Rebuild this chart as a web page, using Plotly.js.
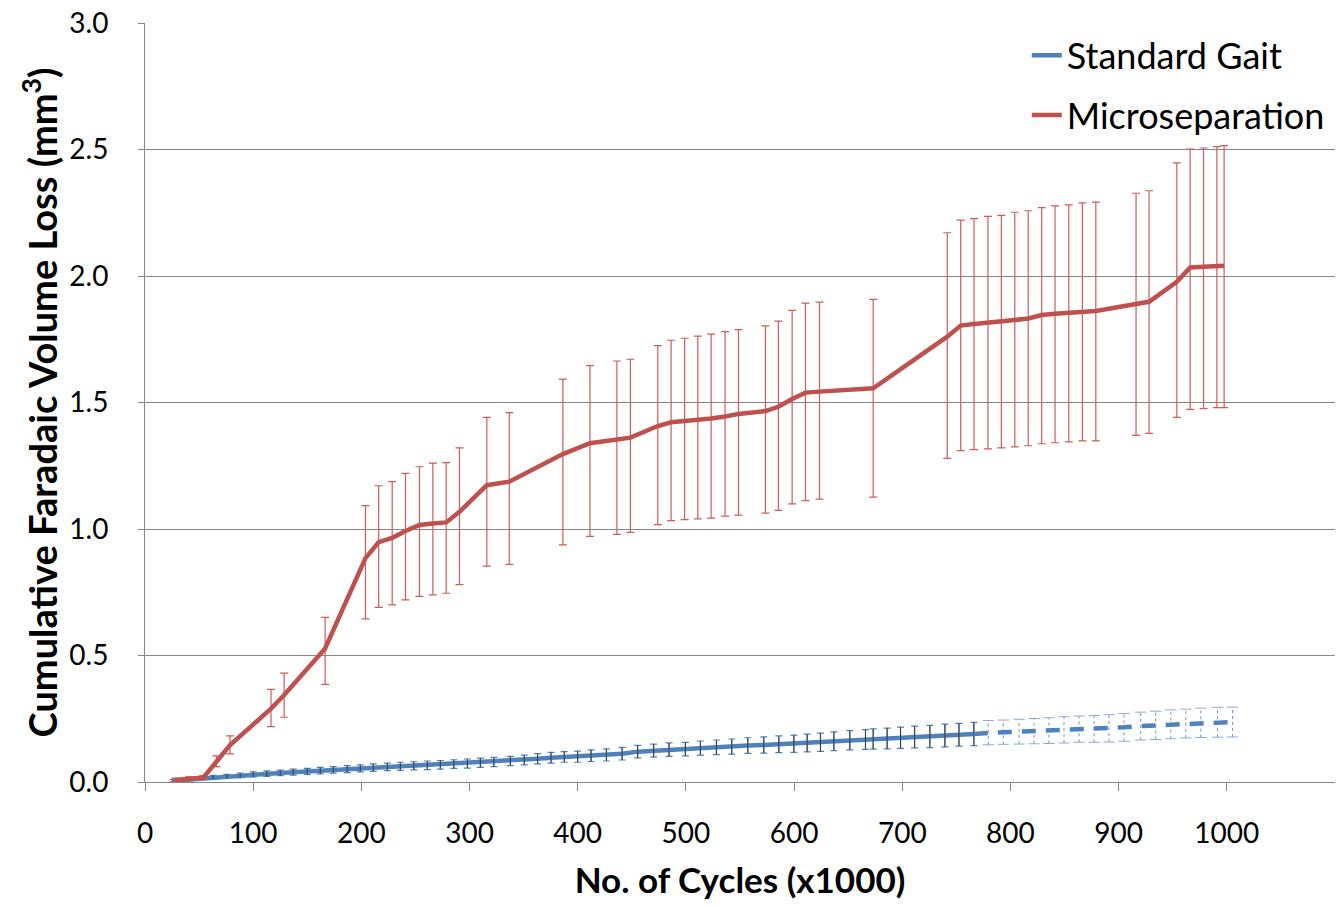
<!DOCTYPE html>
<html>
<head>
<meta charset="utf-8">
<script src="https://cdn.plot.ly/plotly-3.0.1.min.js"></script>
<style>html,body{margin:0;padding:0;background:#fff;}#chart{width:1341px;height:908px;}</style>
</head>
<body>
<div id="chart"></div>
<script>
// ---- Microseparation (red) ----
const redX = [28, 41, 54, 66, 78.6, 116.5, 128.6, 166.5, 203.8, 216, 228.5, 240.8, 253.7, 266.1, 278.4, 290.7, 316, 336.7, 386.3, 411.3, 436.2, 448.7, 474, 486.3, 498.8, 511, 523.3, 536.2, 548.6, 573.5, 585.5, 598.2, 610.5, 623.5, 673.1, 741.6, 754, 766.3, 779.2, 791.6, 804, 816.4, 828.9, 841.2, 853.9, 866.5, 878.9, 916.1, 928.1, 953.8, 966.1, 978.5, 990.8, 997.5];
const redY = [0.008, 0.012, 0.018, 0.08, 0.146, 0.29, 0.344, 0.528, 0.885, 0.948, 0.965, 0.992, 1.016, 1.022, 1.026, 1.068, 1.173, 1.187, 1.296, 1.339, 1.352, 1.361, 1.407, 1.422, 1.427, 1.43, 1.437, 1.445, 1.455, 1.466, 1.483, 1.514, 1.539, 1.543, 1.556, 1.76, 1.804, 1.81, 1.814, 1.819, 1.826, 1.832, 1.846, 1.851, 1.854, 1.857, 1.862, 1.889, 1.898, 1.977, 2.034, 2.037, 2.041, 2.041];
const redHigh = [0.015, 0.02, 0.025, 0.103, 0.182, 0.366, 0.43, 0.651, 1.092, 1.171, 1.187, 1.22, 1.246, 1.26, 1.262, 1.321, 1.441, 1.46, 1.592, 1.646, 1.664, 1.671, 1.725, 1.746, 1.754, 1.762, 1.77, 1.78, 1.788, 1.803, 1.822, 1.864, 1.893, 1.897, 1.908, 2.171, 2.221, 2.227, 2.236, 2.24, 2.252, 2.258, 2.27, 2.277, 2.281, 2.289, 2.292, 2.327, 2.337, 2.447, 2.502, 2.506, 2.511, 2.515];
const redLow = [0.002, 0.005, 0.01, 0.061, 0.111, 0.219, 0.256, 0.386, 0.645, 0.69, 0.70, 0.72, 0.734, 0.74, 0.746, 0.78, 0.853, 0.86, 0.937, 0.971, 0.979, 0.987, 1.017, 1.033, 1.037, 1.04, 1.043, 1.051, 1.055, 1.063, 1.074, 1.099, 1.112, 1.118, 1.126, 1.279, 1.31, 1.314, 1.317, 1.321, 1.325, 1.329, 1.337, 1.341, 1.344, 1.348, 1.348, 1.37, 1.378, 1.441, 1.473, 1.476, 1.48, 1.48];

// ---- Standard Gait (blue), measured part ----
const blueX = [26, 29, 41.6, 51, 54, 63, 75.6, 88, 100, 112.6, 125, 137, 150, 162, 174, 187, 199, 211, 224, 236, 248.5, 261, 273, 285.5, 298, 310, 322.5, 337.7, 350.6, 362.9, 375.3, 387.6, 399.9, 412.3, 426.5, 441, 455.4, 470.2, 484.4, 499.5, 513.4, 528.2, 542.4, 557.2, 572, 585.9, 599.8, 612.1, 624.4, 636.8, 651.5, 666, 673.1, 686, 698.4, 711.4, 725.5, 739.4, 752.4, 766.2];
const blueY = [0.005, 0.006, 0.01, 0.013, 0.015, 0.019, 0.022, 0.026, 0.03, 0.033, 0.036, 0.039, 0.042, 0.045, 0.048, 0.051, 0.054, 0.057, 0.06, 0.062, 0.064, 0.066, 0.068, 0.071, 0.073, 0.076, 0.079, 0.083, 0.087, 0.092, 0.096, 0.099, 0.1, 0.104, 0.107, 0.112, 0.12, 0.124, 0.128, 0.13, 0.134, 0.137, 0.14, 0.144, 0.146, 0.149, 0.151, 0.154, 0.157, 0.161, 0.165, 0.168, 0.17, 0.172, 0.175, 0.178, 0.18, 0.184, 0.187, 0.19];
const blueErr = [0.004, 0.004, 0.005, 0.006, 0.006, 0.007, 0.008, 0.009, 0.01, 0.011, 0.011, 0.012, 0.012, 0.013, 0.013, 0.014, 0.014, 0.015, 0.015, 0.016, 0.016, 0.017, 0.017, 0.017, 0.018, 0.018, 0.018, 0.018, 0.019, 0.02, 0.021, 0.021, 0.022, 0.023, 0.024, 0.025, 0.025, 0.026, 0.027, 0.027, 0.028, 0.029, 0.03, 0.031, 0.032, 0.033, 0.034, 0.035, 0.036, 0.037, 0.038, 0.039, 0.04, 0.041, 0.042, 0.043, 0.044, 0.045, 0.045, 0.046];

// ---- Standard Gait (blue), projected (dashed) part ----
const blueDashX = [779.5, 793.4, 807.9, 821.8, 835.6, 849.5, 863.4, 877.3, 891.1, 905, 920.4, 934.3, 948.2, 962.1, 976, 991.4, 1005.3];
const blueDashY = [0.195, 0.197, 0.199, 0.201, 0.203, 0.206, 0.209, 0.21, 0.212, 0.216, 0.221, 0.224, 0.228, 0.231, 0.234, 0.236, 0.237];
const blueDashErr = [0.048, 0.048, 0.049, 0.05, 0.051, 0.052, 0.052, 0.053, 0.054, 0.055, 0.055, 0.056, 0.057, 0.057, 0.058, 0.059, 0.059];

const xTicks = [0, 100, 200, 300, 400, 500, 600, 700, 800, 900, 1000];
const yTicks = [0, 0.5, 1.0, 1.5, 2.0, 2.5, 3.0];

const BLUE = '#4f81bd', RED = '#c0504d';
const FONT = 'Lato, "Open Sans", "DejaVu Sans", sans-serif';

const redPlus = redHigh.map((h, i) => +(h - redY[i]).toFixed(4));
const redMinus = redLow.map((l, i) => +(redY[i] - l).toFixed(4));

// dashed error stems built from the data arrays
const stemX = [], stemY = [];
blueDashX.forEach((x, i) => {
  stemX.push(x, x, null);
  stemY.push(blueDashY[i] - blueDashErr[i], blueDashY[i] + blueDashErr[i], null);
});
const capX = blueDashX.concat(blueDashX);
const capY = blueDashY.map((y, i) => y + blueDashErr[i]).concat(blueDashY.map((y, i) => y - blueDashErr[i]));

const traces = [
  { // blue solid line with error bars
    x: blueX, y: blueY, type: 'scatter', mode: 'lines', name: 'Standard Gait',
    legendgroup: 'a',
    line: {color: BLUE, width: 4.5},
    error_y: {type: 'data', array: blueErr, visible: true, color: BLUE, thickness: 1.2, width: 3.5}
  },
  { // dark stems over the blue line
    x: blueX, y: blueY, type: 'scatter', mode: 'markers', showlegend: false, hoverinfo: 'skip',
    marker: {size: 1, color: 'rgba(0,0,0,0)'},
    error_y: {type: 'data', array: blueErr, visible: true, color: '#3a3a3a', thickness: 1, width: 0}
  },
  { // dashed projection stems
    x: stemX, y: stemY, type: 'scatter', mode: 'lines', showlegend: false, hoverinfo: 'skip',
    line: {color: '#6f97c9', width: 1, dash: 'dot'}
  },
  { // dashed projection caps
    x: capX, y: capY, type: 'scatter', mode: 'markers', showlegend: false, hoverinfo: 'skip',
    marker: {symbol: 'line-ew', size: 8, line: {color: '#8cabd3', width: 1}}
  },
  { // blue dashed projection line
    x: [blueX[blueX.length - 1]].concat(blueDashX),
    y: [blueY[blueY.length - 1]].concat(blueDashY),
    type: 'scatter', mode: 'lines', showlegend: false,
    line: {color: BLUE, width: 4.5, dash: '14px,10px'}
  },
  { // red
    x: redX, y: redY, type: 'scatter', mode: 'lines', name: 'Microseparation',
    legendgroup: 'b',
    line: {color: RED, width: 4.5},
    error_y: {type: 'data', symmetric: false, array: redPlus, arrayminus: redMinus, visible: true, color: '#cc5e5b', thickness: 1.2, width: 4}
  }
];

const axisLine = '#868686';
const layout = {
  width: 1341, height: 908,
  margin: {l: 145, r: 6, t: 23, b: 126},
  paper_bgcolor: '#ffffff', plot_bgcolor: '#ffffff',
  font: {family: FONT, color: '#000', size: 28},
  showlegend: true,
  legend: {
    x: 0.741, xanchor: 'left', y: 0.997, yanchor: 'top',
    font: {family: FONT, size: 36, color: '#000'},
    bgcolor: 'rgba(0,0,0,0)', traceorder: 'grouped', tracegroupgap: 10,
    itemwidth: 30
  },
  xaxis: {
    range: [0, 1100], tickvals: xTicks, ticktext: xTicks.map(String),
    showgrid: false, zeroline: false,
    showline: true, linecolor: axisLine, linewidth: 1,
    ticks: 'outside', ticklen: 8, tickcolor: axisLine,
    ticklabelstandoff: 18,
    tickfont: {family: FONT, size: 28, color: '#000'},
    title: {text: '<b>No. of Cycles (x1000)</b>', font: {family: FONT, size: 35, color: '#000'}, standoff: 20}
  },
  yaxis: {
    range: [0, 3], tickvals: yTicks, ticktext: yTicks.map(v => v.toFixed(1)),
    showgrid: true, gridcolor: axisLine, gridwidth: 1, zeroline: false,
    showline: true, linecolor: axisLine, linewidth: 1,
    ticks: 'outside', ticklen: 6, tickcolor: axisLine,
    ticklabelstandoff: 24,
    tickfont: {family: FONT, size: 28, color: '#000'},
    title: {text: '<b>Cumulative Faradaic Volume Loss (mm<sup>3</sup>)</b>', font: {family: FONT, size: 38, color: '#000'}, standoff: 0}
  }
};

Plotly.newPlot('chart', traces, layout, {displayModeBar: false, staticPlot: true});
</script>
</body>
</html>
